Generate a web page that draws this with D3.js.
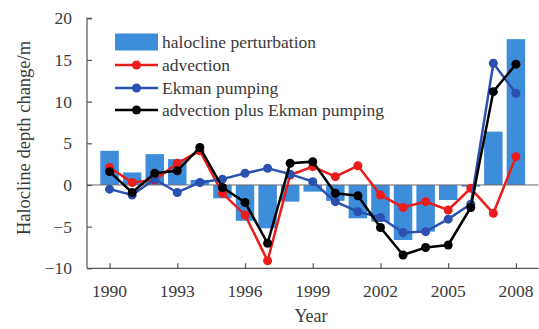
<!DOCTYPE html>
<html>
<head>
<meta charset="utf-8">
<script src="https://cdn.jsdelivr.net/npm/d3@7"></script>
<style>
  body { margin: 0; background: #fff; }
  svg { display: block; font-family: "Liberation Serif", "Times New Roman", serif; }
</style>
</head>
<body>
<div id="chart"></div>
<script>
// values (m)
const years = d3.range(1990, 2009);
const perturbation = [4.1, 1.5, 3.7, 3.1, 0.6, -1.6, -4.3, -5.2, -2.0, -0.8, -1.9, -4.0, -4.4, -6.6, -5.6, -1.8, -0.2, 6.4, 17.5];
const advection = [2.1, 0.3, 0.6, 2.6, 4.1, -1.0, -3.6, -9.1, 1.2, 2.2, 1.0, 2.3, -1.2, -2.7, -2.0, -3.0, -0.4, -3.4, 3.4];
const ekman = [-0.5, -1.2, 0.7, -0.9, 0.3, 0.7, 1.4, 2.0, 1.3, 0.4, -2.0, -3.2, -3.9, -5.7, -5.6, -4.1, -2.3, 14.6, 11.0];
const combined = [1.6, -0.9, 1.4, 1.7, 4.5, -0.3, -2.1, -7.0, 2.6, 2.8, -1.0, -1.3, -5.1, -8.4, -7.5, -7.2, -2.7, 11.2, 14.5];
const yTicks = [-10, -5, 0, 5, 10, 15, 20];
const xTicks = [1990, 1993, 1996, 1999, 2002, 2005, 2008];

const width = 539, height = 329;
const svg = d3.select('#chart').append('svg')
    .attr('width', width)
    .attr('height', height);

const x = d3.scaleLinear().domain([1989, 2009]).range([87, 538.5]);
const y = d3.scaleLinear().domain([-10, 20]).range([268.3, 18.3]);

const axisColor = '#5a5350';
const textColor = '#3a3a3a';

// bars
const barW = 18.5;
svg.append('g')
    .selectAll('rect')
    .data(years)
    .join('rect')
    .attr('x', (d, i) => x(d) - barW / 2)
    .attr('y', (d, i) => y(Math.max(0, perturbation[i])))
    .attr('width', barW)
    .attr('height', (d, i) => Math.abs(y(perturbation[i]) - y(0)))
    .attr('fill', '#3d8dda');

// zero line
svg.append('line')
    .attr('x1', x(1989)).attr('x2', x(2009))
    .attr('y1', y(0)).attr('y2', y(0))
    .attr('stroke', '#6b6b6b')
    .attr('stroke-width', 1);

// axes
const yAxis = svg.append('g')
    .attr('transform', `translate(${x(1989)},0)`)
    .call(d3.axisRight(y).tickValues(yTicks).tickSize(5).tickFormat(''));
yAxis.select('.domain').attr('d', `M5,${y(20)}H0V${y(-10)}`);

const xAxis = svg.append('g')
    .attr('transform', `translate(0,${y(-10)})`)
    .call(d3.axisTop(x).tickValues(xTicks).tickSize(5).tickFormat(''));
xAxis.select('.domain').attr('d', `M${x(1989)},0H${x(2009)}`);

svg.selectAll('.domain, .tick line')
    .attr('stroke', axisColor)
    .attr('stroke-width', 1.2);

// tick labels
svg.append('g')
    .selectAll('text')
    .data(yTicks)
    .join('text')
    .attr('x', 72)
    .attr('y', d => y(d))
    .attr('dy', '0.35em')
    .attr('text-anchor', 'end')
    .attr('font-size', 17.5)
    .attr('fill', textColor)
    .text(d => d < 0 ? '\u2212' + Math.abs(d) : d);

svg.append('g')
    .selectAll('text')
    .data(xTicks)
    .join('text')
    .attr('x', d => x(d))
    .attr('y', 297)
    .attr('text-anchor', 'middle')
    .attr('font-size', 17.5)
    .attr('fill', textColor)
    .text(d => d);

svg.append('text')
    .attr('x', 311)
    .attr('y', 322)
    .attr('text-anchor', 'middle')
    .attr('font-size', 18)
    .attr('fill', textColor)
    .text('Year');

svg.append('text')
    .attr('transform', 'translate(30,138) rotate(-90)')
    .attr('text-anchor', 'middle')
    .attr('font-size', 18.5)
    .attr('fill', textColor)
    .text('Halocline depth change/m');

// lines
const series = [
    { name: 'advection', values: advection, color: '#ec1c1c' },
    { name: 'Ekman pumping', values: ekman, color: '#2a50b0' },
    { name: 'advection plus Ekman pumping', values: combined, color: '#000000' }
];

const line = d3.line()
    .x((d, i) => x(years[i]))
    .y(d => y(d));

series.forEach(s => {
    svg.append('path')
        .datum(s.values)
        .attr('d', line)
        .attr('fill', 'none')
        .attr('stroke', s.color)
        .attr('stroke-width', 2.5);
    svg.append('g')
        .selectAll('circle')
        .data(s.values)
        .join('circle')
        .attr('cx', (d, i) => x(years[i]))
        .attr('cy', d => y(d))
        .attr('r', 4.5)
        .attr('fill', s.color);
});

// legend
const legend = svg.append('g').attr('transform', 'translate(115,0)');
const rowY = [42, 65, 88, 110];
legend.append('rect')
    .attr('x', 0).attr('y', rowY[0] - 8.5)
    .attr('width', 43).attr('height', 17)
    .attr('fill', '#3d8dda');
legend.append('text')
    .attr('x', 47).attr('y', rowY[0])
    .attr('dy', '0.35em')
    .attr('font-size', 17.5)
    .attr('fill', textColor)
    .text('halocline perturbation');

series.forEach((s, i) => {
    const g = legend.append('g').attr('transform', `translate(0,${rowY[i + 1]})`);
    g.append('line')
        .attr('x1', 0).attr('x2', 43)
        .attr('stroke', s.color)
        .attr('stroke-width', 2.5);
    g.append('circle')
        .attr('cx', 21.5)
        .attr('r', 4.5)
        .attr('fill', s.color);
    g.append('text')
        .attr('x', 47)
        .attr('dy', '0.35em')
        .attr('font-size', 17.5)
        .attr('fill', textColor)
        .text(s.name);
});
</script>
</body>
</html>
